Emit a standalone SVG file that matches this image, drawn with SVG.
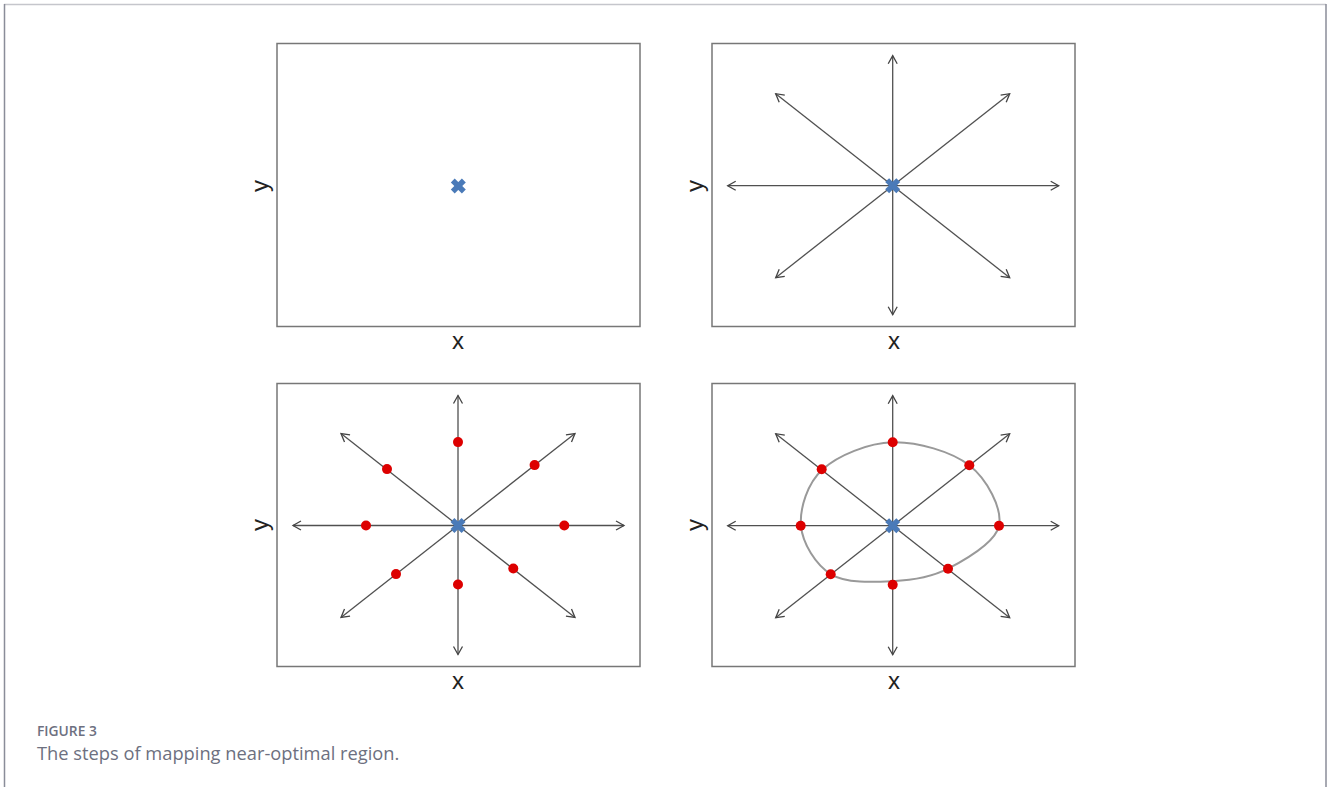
<svg xmlns="http://www.w3.org/2000/svg" width="1328" height="787" viewBox="0 0 1328 787">
<style>
.frame{fill:#fff;stroke:#777;stroke-width:1.5}
.ray{stroke:#505050;stroke-width:1.3;fill:none;marker-end:url(#ah)}
.dot{fill:#dd0000}
.cross{stroke:#4a7ab8;stroke-width:5.5;stroke-linecap:butt}
.curve{fill:none;stroke:#999;stroke-width:2}
.ax{font-family:"Liberation Sans",Arial,sans-serif;font-size:24px;fill:#222;text-anchor:middle}
.cap1{font-family:"Open Sans","Liberation Sans",sans-serif;font-size:13.8px;font-weight:600;fill:#6d7080}
.cap2{font-family:"Open Sans","Liberation Sans",sans-serif;font-size:18.3px;fill:#6d7080}
</style>
<defs>
<marker id="ah" viewBox="-10 -6 12 12" refX="0" refY="0" markerWidth="12" markerHeight="12" markerUnits="userSpaceOnUse" orient="auto">
<path d="M-8,-4.5 L0,0 L-8,4.5" fill="none" stroke="#444" stroke-width="1.3"/>
</marker>
<g id="rays">
<line class="ray" x1="0" y1="0" x2="0" y2="-130"/>
<line class="ray" x1="0" y1="0" x2="0" y2="129"/>
<line class="ray" x1="0" y1="0" x2="-165" y2="0"/>
<line class="ray" x1="0" y1="0" x2="166" y2="0"/>
<line class="ray" x1="0" y1="0" x2="-117" y2="-92"/>
<line class="ray" x1="0" y1="0" x2="117" y2="-92"/>
<line class="ray" x1="0" y1="0" x2="-117" y2="92"/>
<line class="ray" x1="0" y1="0" x2="117" y2="92"/>
</g>
<g id="dots">
<circle class="dot" cx="0" cy="-83.4" r="5"/>
<circle class="dot" cx="76.6" cy="-60.4" r="5"/>
<circle class="dot" cx="106.3" cy="0" r="5"/>
<circle class="dot" cx="55.3" cy="43" r="5"/>
<circle class="dot" cx="0" cy="59" r="5"/>
<circle class="dot" cx="-62" cy="48.6" r="5"/>
<circle class="dot" cx="-92" cy="0" r="5"/>
<circle class="dot" cx="-71" cy="-56.4" r="5"/>
</g>
<g id="xmark">
<line class="cross" x1="-5.55" y1="-5.55" x2="5.55" y2="5.55"/>
<line class="cross" x1="-5.55" y1="5.55" x2="5.55" y2="-5.55"/>
</g>
</defs>

<g id="outer-frame">
<line x1="4" y1="4.5" x2="1326" y2="4.5" stroke="#c5c6cc" stroke-width="1.5"/>
<line x1="4.5" y1="4" x2="4.5" y2="787" stroke="#8a8d99" stroke-width="1.5"/>
<line x1="1326" y1="4" x2="1326" y2="787" stroke="#8a8d99" stroke-width="1.5"/>
</g>

<g id="panel1">
<rect class="frame" x="277" y="43.5" width="363" height="283"/>
<use href="#xmark" transform="translate(458.3,186)"/>
<text class="ax" x="458" y="349">x</text>
<text class="ax" x="268" y="186" transform="rotate(-90 268 186)">y</text>
</g>

<g id="panel2">
<rect class="frame" x="712" y="43.5" width="363" height="283"/>
<g id="connectors2"><use href="#rays" transform="translate(892.7,185.7)"/></g>
<use href="#xmark" transform="translate(892.7,185.7)"/>
<text class="ax" x="894" y="349">x</text>
<text class="ax" x="703" y="186" transform="rotate(-90 703 186)">y</text>
</g>

<g id="panel3">
<rect class="frame" x="277" y="383.5" width="363" height="283"/>
<g id="connectors3"><use href="#rays" transform="translate(458,525.5)"/></g>
<use href="#dots" transform="translate(458,525.5)"/>
<use href="#xmark" transform="translate(458,525.5)"/>
<text class="ax" x="458" y="689">x</text>
<text class="ax" x="268" y="525" transform="rotate(-90 268 525)">y</text>
</g>

<g id="panel4">
<rect class="frame" x="712" y="383.5" width="363" height="283"/>
<g id="connectors4"><use href="#rays" transform="translate(892.7,525.7)"/></g>
<path class="curve" transform="translate(892.7,525.7)" d="M0,-83.4 C24.43,-84.07 58.88,-74.3 76.6,-60.4 C94.32,-46.5 109.85,-17.23 106.3,0 C102.75,17.23 73.02,33.75 55.3,43 C37.58,52.25 19.5,54.57 0,55.5 C-19.5,56.43 -46.42,57.85 -61.7,48.6 C-76.98,39.35 -90.32,17.5 -91.7,0 C-93.08,-17.5 -85.28,-42.5 -70,-56.4 C-54.72,-70.3 -24.43,-82.73 0,-83.4 Z"/>
<use href="#dots" transform="translate(892.7,525.7)"/>
<use href="#xmark" transform="translate(892.7,525.7)"/>
<text class="ax" x="894" y="689">x</text>
<text class="ax" x="703" y="525" transform="rotate(-90 703 525)">y</text>
</g>

<g id="caption">
<text class="cap1" x="37" y="736">FIGURE 3</text>
<text class="cap2" x="37" y="760">The steps of mapping near-optimal region.</text>
</g>
</svg>
